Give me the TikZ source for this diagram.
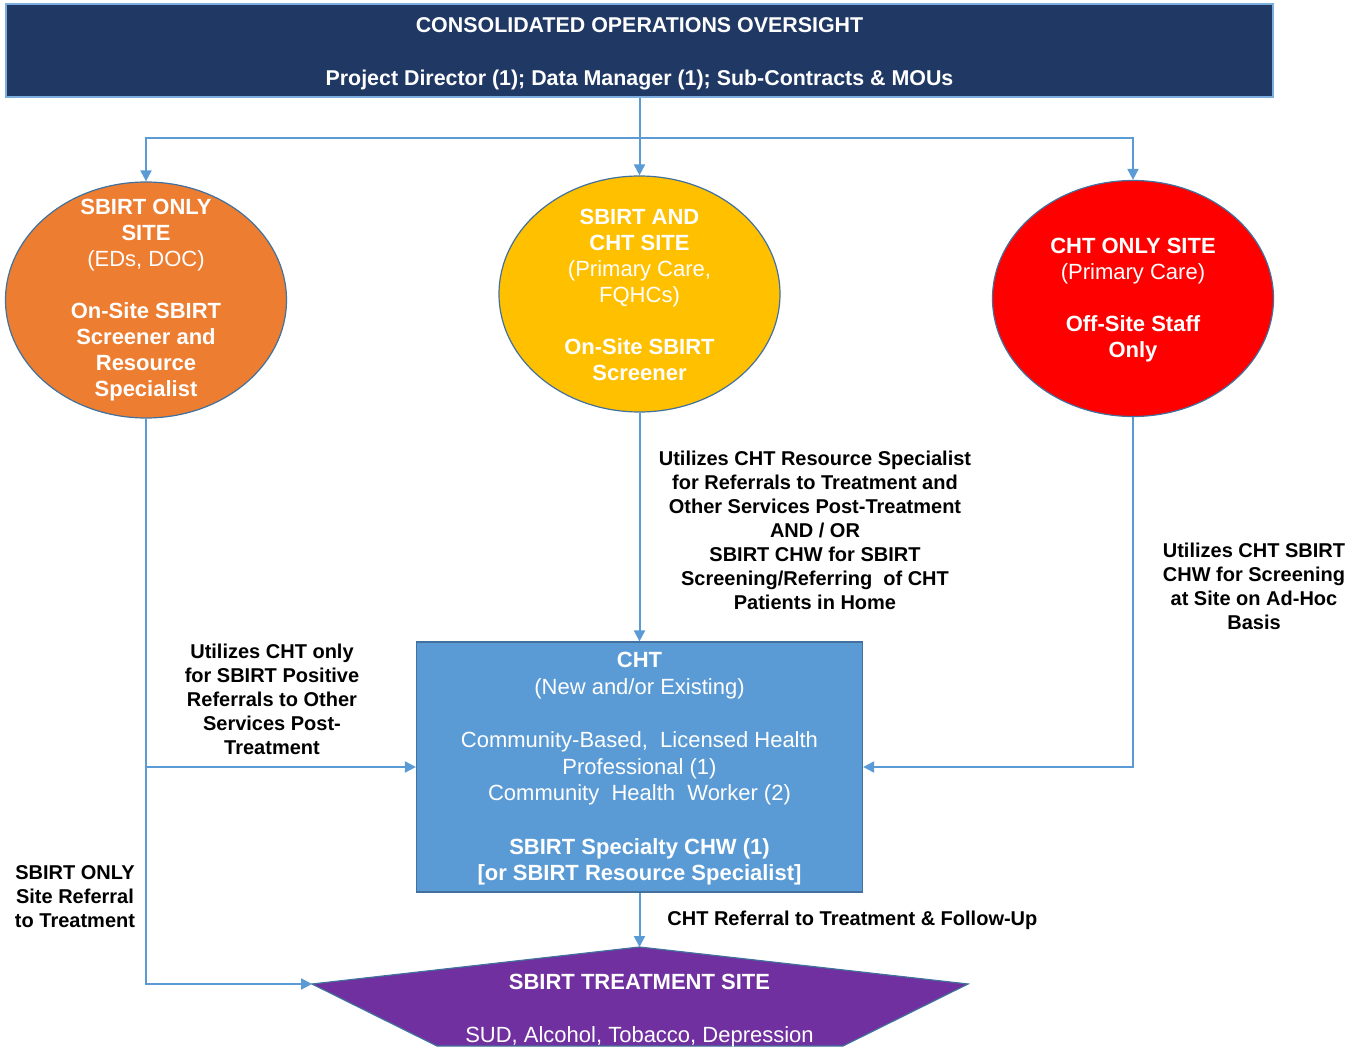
\documentclass[tikz,border=0pt]{standalone}
\usepackage{fontspec}
\setmainfont{Liberation Sans}
\usetikzlibrary{shapes.geometric,arrows.meta,calc}
\definecolor{navy}{HTML}{203864}
\definecolor{linkc}{HTML}{5B9BD5}
\definecolor{edgec}{HTML}{41719C}
\definecolor{orangec}{HTML}{ED7D31}
\definecolor{yellowc}{HTML}{FFC000}
\definecolor{redc}{HTML}{FF0000}
\definecolor{chtc}{HTML}{5B9BD5}
\definecolor{purplec}{HTML}{7030A0}
\begin{document}
\begin{tikzpicture}[x=0.5pt,y=-0.5pt,
  conn/.style={draw=linkc, line width=1pt, -{Triangle[length=5.5pt,width=5.5pt]}},
  plain/.style={draw=linkc, line width=1pt},
  site/.style={ellipse, draw=edgec, line width=0.6pt, minimum width=140.5pt, minimum height=118pt, inner sep=0pt},
  sitetext/.style={text=white, align=center, inner sep=0pt, font=\fontsize{11}{13}\selectfont},
  lbl/.style={align=center, inner sep=0pt, font=\fontsize{10}{12}\selectfont\bfseries}]
\useasboundingbox (0,0) rectangle (1362,1048);

% top box
\node[draw=linkc!80, line width=1pt, fill=navy, minimum width=633.5pt, minimum height=46.5pt, inner sep=0pt] (top) at (639.5,50.5) {};
\node[text=white, align=center, inner sep=0pt, font=\fontsize{10.7}{13}\selectfont\bfseries] (topt) at (639.5,54)
  {CONSOLIDATED OPERATIONS OVERSIGHT\\[13.5pt]Project Director (1); Data Manager (1); Sub-Contracts \& MOUs};

% sites
\node[site, fill=orangec] (e1) at (146,300) {};
\node[sitetext] (e1t) at (146,300) {\textbf{SBIRT ONLY}\\\textbf{SITE}\\(EDs, DOC)\\[13pt]\textbf{On-Site SBIRT}\\\textbf{Screener and}\\\textbf{Resource}\\\textbf{Specialist}};
\node[site, fill=yellowc] (e2) at (639.5,294) {};
\node[sitetext] (e2t) at (639.5,295) {\textbf{SBIRT AND}\\\textbf{CHT SITE}\\(Primary Care,\\FQHCs)\\[13pt]\textbf{On-Site SBIRT}\\\textbf{Screener}};
\node[site, fill=redc] (e3) at (1133,298.5) {};
\node[sitetext] (e3t) at (1133,300) {\textbf{CHT ONLY SITE}\\(Primary Care)\\[13pt]\textbf{Off-Site Staff}\\\textbf{Only}};

% CHT box
\node[draw=edgec, line width=0.6pt, fill=chtc, minimum width=223pt, minimum height=125pt, inner sep=0pt] (cht) at (639.5,767) {};
\node[text=white, align=center, inner sep=0pt, font=\fontsize{11}{13.3}\selectfont] (chtt) at (639.5,769)
  {\textbf{CHT}\\(New and/or Existing)\\[13.3pt]Community-Based,\ \ Licensed Health\\Professional (1)\\Community\ \ Health\ \ Worker (2)\\[13.3pt]\textbf{SBIRT Specialty CHW (1)}\\\textbf{[or SBIRT Resource Specialist]}};

% treatment hexagon
\coordinate (hexN) at (639.5,947);
\coordinate (hexE) at (968,984);
\coordinate (hexSE) at (843,1046);
\coordinate (hexSW) at (437,1046);
\coordinate (hexW) at (312,984);
\fill[purplec] (hexN) -- (hexE) -- (hexSE) -- (hexSW) -- (hexW) -- cycle;
\draw[edgec, line width=0.6pt] (hexSE) -- (hexE) -- (hexN) -- (hexW) -- (hexSW) -- (hexSE);
\node[text=white, align=center, inner sep=0pt, font=\fontsize{11}{13}\selectfont] (hex) at (639.5,1010.5)
  {\textbf{SBIRT TREATMENT SITE}\\[13.5pt]SUD, Alcohol, Tobacco, Depression};

% connectors from top
\coordinate (j) at (639.5,138);
\draw[plain] (top.south) -- (j);
\draw[conn] (j) -| (e1.north);
\draw[conn] (j) -- (e2.north);
\draw[conn] (j) -| (e3.north);

% connectors to CHT and treatment
\draw[conn] (e2.south) -- (cht.north);
\draw[conn] (e1.south) |- (hexW);
\draw[conn] (e1.south |- cht.west) -- (cht.west);
\draw[conn] (e3.south) |- (cht.east);
\draw[conn] (cht.south) -- (hexN);

% labels
\node[lbl] (l2) at (815,530.5) {Utilizes CHT Resource Specialist\\for Referrals to Treatment and\\Other Services Post-Treatment\\AND / OR\\SBIRT CHW for SBIRT\\Screening/Referring\ \ of CHT\\Patients in Home};
\node[lbl] (l3) at (1254,586) {Utilizes CHT SBIRT\\CHW for Screening\\at Site on Ad-Hoc\\Basis};
\node[lbl] (l1) at (272,699) {Utilizes CHT only\\for SBIRT Positive\\Referrals to Other\\Services Post-\\Treatment};
\node[lbl] (l0) at (75,897) {SBIRT ONLY\\Site Referral\\to Treatment};
\node[lbl, anchor=west] (l4) at (667,920) {CHT Referral to Treatment \& Follow-Up};
\end{tikzpicture}
\end{document}
